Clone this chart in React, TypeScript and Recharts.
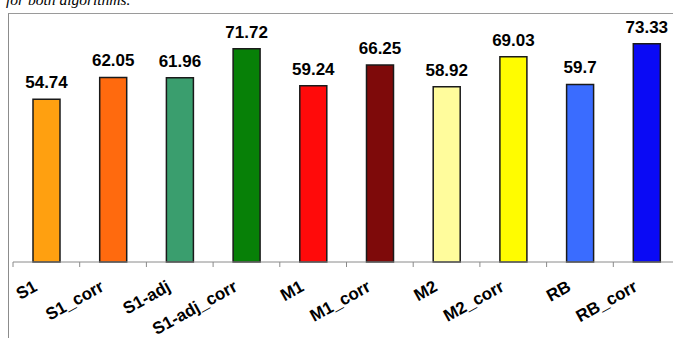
import React from 'react'
import { BarChart, Bar, XAxis, YAxis, Cell, LabelList } from 'recharts'

const methods = ['S1', 'S1_corr', 'S1-adj', 'S1-adj_corr', 'M1', 'M1_corr', 'M2', 'M2_corr', 'RB', 'RB_corr']
const scores = [54.74, 62.05, 61.96, 71.72, 59.24, 66.25, 58.92, 69.03, 59.7, 73.33]
const barColors = ['#FFA010', '#FF6A0E', '#3A9E6E', '#078007', '#FF0A0A', '#7E0A0A', '#FFFC9C', '#FFFC00', '#3A6CFF', '#0A0AF5']

const data = methods.map((name, i) => ({ name, score: scores[i] }))

const FONT = 'Arial, "Liberation Sans", sans-serif'

// label rotated up-right and ending just left of the bar, plus a tick mark on the left edge of each band
function MethodTick(props: any) {
  const { x, y, payload } = props
  const half = payload?.offset ?? 33
  return (
    <g>
      <line x1={x - half} y1={y - 8} x2={x - half} y2={y - 3} stroke="#8a8a8a" strokeWidth={1} />
      <text
        x={x - 8}
        y={y + 20}
        transform={`rotate(-29, ${x - 8}, ${y + 20})`}
        textAnchor="end"
        fontFamily={FONT}
        fontWeight="bold"
        fontSize={17}
        fill="#000"
      >
        {payload.value}
      </text>
    </g>
  )
}

export default function App() {
  return (
    <div style={{ position: 'fixed', left: 0, top: 0, width: 673, height: 338, overflow: 'hidden', background: '#fff' }}>
      <div style={{ position: 'absolute', left: 6, top: -9, fontFamily: '"Liberation Serif", "Times New Roman", serif', fontStyle: 'italic', fontSize: 15.5, whiteSpace: 'nowrap' }}>
        for both algorithms.
      </div>
      <div style={{ position: 'absolute', left: 8, top: 13, width: 700, height: 340, borderLeft: '1.5px solid #8c8c8c', borderTop: '1px solid #9a9a9a' }} />
      <div style={{ position: 'absolute', left: 0, top: 0 }}>
        <BarChart width={690} height={338} data={data} margin={{ top: 24, right: 10, left: 13, bottom: 0 }} barCategoryGap="30%">
          <XAxis
            dataKey="name"
            height={76}
            interval={0}
            tickLine={false}
            axisLine={{ stroke: '#8a8a8a', strokeWidth: 1 }}
            tick={<MethodTick />}
          />
          <YAxis hide domain={[0, 80]} />
          <Bar dataKey="score" isAnimationActive={false} stroke="#1a1a1a" strokeWidth={1.5} barSize={27}>
            {data.map((d, i) => (
              <Cell key={d.name} fill={barColors[i]} />
            ))}
            <LabelList
              dataKey="score"
              position="top"
              offset={11}
              style={{ fontFamily: FONT, fontWeight: 'bold', fontSize: 17, fill: '#000' }}
            />
          </Bar>
        </BarChart>
      </div>
    </div>
  )
}
